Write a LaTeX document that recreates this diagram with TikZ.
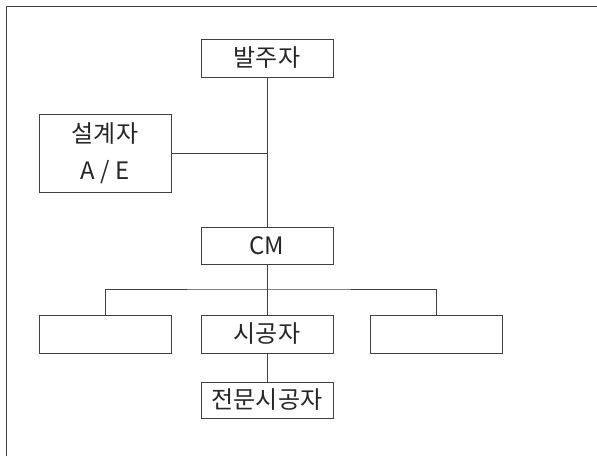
\documentclass[tikz,border=0pt]{standalone}
\usepackage{fontspec}
\setmainfont{Noto Sans CJK KR}
\begin{document}
\begin{tikzpicture}[x=1pt,y=-1pt,
  line/.style={draw=black!75,line width=0.9pt},
  box/.style={line,rectangle,minimum width=132pt,minimum height=38pt,inner sep=0pt,font=\fontsize{24}{30}\selectfont,text=black!85}]
\useasboundingbox (0,0) rectangle (597,456);
\draw[line] (6,456) -- (6,6) -- (597,6);
\node[box] (owner) at (267,58) {발주자};
\node[box,minimum height=78pt,align=center] (ae) at (105,153) {설계자\\[7pt]A / E};
\node[box,minimum height=37pt] (cm) at (267,245.5) {CM};
\node[box] (left) at (105,334) {};
\node[box] (con) at (267,334) {시공자};
\node[box] (right) at (436,334) {};
\node[box,minimum height=36pt] (sub) at (267,400) {전문시공자};
\coordinate (j1) at (267,153);
\coordinate (bus) at (267,289);
\draw[line] (owner) -- (cm);
\draw[line] (ae.east |- j1) -- (j1);
\draw[line] (cm) -- (con);
\draw[line] (left.north) |- (bus) -| (right.north);
\draw[line] (con) -- (sub);
\end{tikzpicture}
\end{document}
